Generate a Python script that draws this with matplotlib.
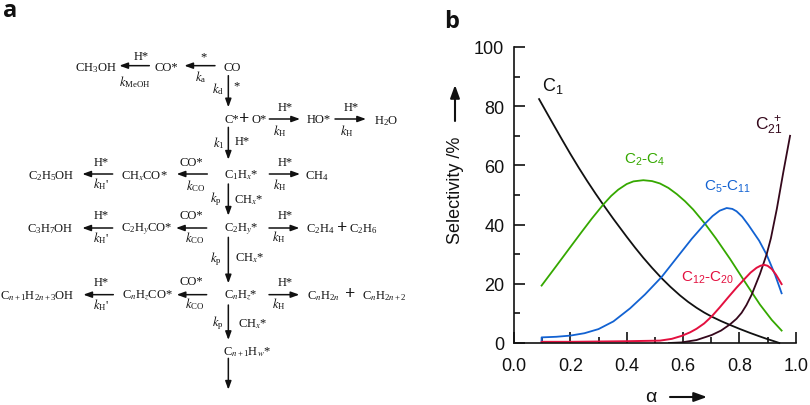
import matplotlib
matplotlib.use("Agg")
import matplotlib.pyplot as plt

# ---------- chart data ----------
alpha_c1 = [0.089, 0.115, 0.14, 0.17, 0.20, 0.23, 0.26, 0.29, 0.317, 0.353, 0.40, 0.43, 0.459, 0.49, 0.524, 0.555, 0.589, 0.618, 0.648, 0.675, 0.702, 0.735, 0.767, 0.80, 0.838, 0.87, 0.897, 0.92, 0.942]
sel_c1 = [82.4, 78.0, 73.8, 68.8, 63.9, 59.2, 54.7, 50.4, 46.7, 41.9, 35.9, 32.2, 28.8, 25.4, 21.9, 19.0, 16.1, 13.9, 11.9, 10.3, 8.9, 7.4, 6.1, 4.8, 3.4, 2.3, 1.4, 0.7, 0.0]

alpha_c2 = [0.098, 0.15, 0.20, 0.24, 0.276, 0.317, 0.345, 0.37, 0.40, 0.424, 0.459, 0.49, 0.518, 0.548, 0.578, 0.607, 0.636, 0.678, 0.717, 0.767, 0.82, 0.873, 0.915, 0.95]
sel_c2 = [19.4, 26.0, 32.4, 37.5, 42.0, 46.8, 49.7, 51.8, 53.7, 54.6, 55.0, 54.7, 53.9, 52.4, 50.3, 47.9, 45.1, 40.3, 35.3, 28.4, 20.6, 13.0, 7.8, 4.2]

alpha_c5 = [0.098, 0.098, 0.15, 0.20, 0.25, 0.30, 0.353, 0.412, 0.465, 0.524, 0.577, 0.631, 0.678, 0.705, 0.73, 0.755, 0.775, 0.79, 0.81, 0.832, 0.87, 0.897, 0.927, 0.95]
sel_c5 = [0.5, 1.9, 2.1, 2.5, 3.3, 4.7, 7.3, 11.7, 16.4, 22.3, 28.7, 35.2, 40.3, 42.9, 44.7, 45.6, 45.3, 44.5, 42.7, 39.9, 34.6, 29.8, 23.0, 16.8]

alpha_c12 = [0.098, 0.20, 0.30, 0.40, 0.518, 0.56, 0.595, 0.625, 0.648, 0.675, 0.702, 0.73, 0.761, 0.79, 0.82, 0.84, 0.861, 0.875, 0.888, 0.90, 0.915, 0.93, 0.95]
sel_c12 = [0.4, 0.4, 0.5, 0.6, 0.8, 1.4, 2.4, 3.6, 4.8, 6.6, 9.0, 12.0, 15.5, 18.7, 21.8, 23.8, 25.4, 26.1, 26.4, 26.1, 25.0, 23.1, 19.9]

alpha_c21 = [0.55, 0.595, 0.648, 0.702, 0.735, 0.767, 0.79, 0.808, 0.825, 0.844, 0.873, 0.897, 0.912, 0.933, 0.956, 0.98]
sel_c21 = [0.0, 0.2, 1.0, 2.7, 4.2, 6.3, 8.2, 10.2, 12.8, 16.4, 23.3, 30.0, 35.4, 45.3, 57.7, 70.0]

x_ticks = [0.0, 0.2, 0.4, 0.6, 0.8, 1.0]
x_minor = [0.1, 0.3, 0.5, 0.7, 0.9]
y_ticks = [0, 20, 40, 60, 80, 100]
y_minor = [10, 30, 50, 70, 90]

BLACK, GREEN, BLUE, RED, MAROON = "#111111", "#35a800", "#1262d2", "#e3103f", "#35081c"

W, H = 810, 406
plt.rcParams["font.family"] = ["Liberation Sans", "DejaVu Sans"]
plt.rcParams["mathtext.fontset"] = "custom"
plt.rcParams["mathtext.rm"] = "Liberation Sans"
plt.rcParams["mathtext.it"] = "Liberation Sans:italic"
plt.rcParams["mathtext.default"] = "regular"
fig = plt.figure(figsize=(W / 100, H / 100), dpi=100)
L, R, T, B = 514.0, 795.7, 48.0, 344.0
ax = fig.add_axes([L / W, (H - B) / H, (R - L) / W, (B - T) / H])
ax.set_xlim(0, 1)
ax.set_ylim(0, 100)
ax.patch.set_alpha(0)
for s in ("top", "right"):
    ax.spines[s].set_visible(False)
for s in ("left", "bottom"):
    ax.spines[s].set_linewidth(1.2)
    ax.spines[s].set_color("#111111")
ax.set_xticks(x_ticks)
ax.set_yticks(y_ticks)
ax.set_xticks(x_minor, minor=True)
ax.set_yticks(y_minor, minor=True)
ax.set_xticklabels([f"{v:.1f}" for v in x_ticks])
ax.tick_params(which="major", direction="in", length=8, width=1.2, labelsize=13, color="#111111", labelcolor="#111111")
ax.tick_params(which="minor", direction="in", length=4.2, width=1.2, color="#111111")
ax.tick_params(axis="x", which="major", pad=10)
ax.tick_params(axis="y", which="major", pad=7)

ax.plot(alpha_c1, sel_c1, color=BLACK, lw=1.3, clip_on=False)
ax.plot(alpha_c2, sel_c2, color=GREEN, lw=1.3)
ax.plot(alpha_c5, sel_c5, color=BLUE, lw=1.3)
ax.plot(alpha_c21, sel_c21, color=MAROON, lw=1.3)
ax.plot(alpha_c12, sel_c12, color=RED, lw=1.4)

# ---------- overlay in pixel coordinates for annotation and panel a ----------
ov = fig.add_axes([0, 0, 1, 1])
ov.set_xlim(0, W)
ov.set_ylim(H, 0)
ov.axis("off")


def sans(x, y, s, size=12, color="#111111", **kw):
    kw.setdefault("ha", "center")
    kw.setdefault("va", "center")
    ov.text(x, y, s, fontsize=size, color=color, family="Liberation Sans", math_fontfamily="custom", **kw)


sans(553, 86, "C$_{1}$", 13)
sans(645, 160, "C$_{2}$-C$_{4}$", 11, GREEN)
sans(728, 187, "C$_{5}$-C$_{11}$", 11, BLUE)
sans(708, 278, "C$_{12}$-C$_{20}$", 11, RED)
sans(769, 126, "C$_{21}^{\\,\\,+}$", 12.5, MAROON)
sans(455, 190, "Selectivity /%", 13, rotation=90)
sans(651, 398, "α", 14)
ov.text(10, 17, "a", fontsize=17, fontweight="bold", family="Open Sans", color="#111111", ha="center", va="baseline")
ov.text(452, 28, "b", fontsize=17, fontweight="bold", family="Open Sans", color="#111111", ha="center", va="baseline")


def arrow(x0, y0, x1, y1, lw=1.1, ms=9):
    ov.annotate("", xy=(x1, y1), xytext=(x0, y0),
                arrowprops=dict(arrowstyle="-|>,head_length=0.55,head_width=0.2", lw=lw, color="#111111",
                                shrinkA=0, shrinkB=0, mutation_scale=ms))


arrow(455, 122, 455, 86, lw=1.5, ms=14)
arrow(670, 398, 707, 398, lw=1.5, ms=14)


def tt(zx, zy, s, size=9, base=0, **kw):
    kw.setdefault("ha", "center")
    ov.text(zx / 3, base + zy / 3, s, fontsize=size, color="#111111", family="Liberation Serif",
            math_fontfamily="stix", va="center", **kw)


KH = "$\\mathit{k}_{H}$"
KHP = "$\\mathit{k}_{H}$'"
KCO = "$\\mathit{k}_{CO}$"
KP = "$\\mathit{k}_{p}$"

# upper crop coordinates
for x, y, s in [
    (288, 203, "CH$_{3}$OH"), (424, 170, "H*"), (404, 245, "$\\mathit{k}_{MeOH}$"), (500, 203, "CO*"),
    (610, 172, "*"), (602, 232, "$\\mathit{k}_{a}$"), (697, 203, "CO"), (655, 268, "$\\mathit{k}_{d}$"), (710, 258, "*"),
    (695, 360, "C*"), (778, 360, "O*"), (856, 325, "H*"), (840, 392, KH), (955, 360, "HO*"),
    (1054, 325, "H*"), (1040, 392, KH), (1157, 362, "H$_{2}$O"), (655, 428, "$\\mathit{k}_{1}$"), (727, 425, "H*"),
    (723, 525, "C$_{1}$H$_{\\mathit{x}}$*"), (855, 490, "H*"), (840, 555, KH), (950, 528, "CH$_{4}$"),
    (575, 488, "CO*"), (586, 558, KCO), (433, 528, "CH$_{\\mathit{x}}$CO*"), (303, 490, "H*"), (303, 552, KHP),
    (155, 527, "C$_{2}$H$_{5}$OH"), (648, 597, KP), (747, 600, "CH$_{\\mathit{x}}$*"),
]:
    tt(x, y, s)
tt(732, 360, "+", size=13, fontweight="bold")

# lower crop coordinates
for x, y, s in [
    (722, 87, "C$_{2}$H$_{\\mathit{y}}$*"), (855, 47, "H*"), (836, 112, KH), (960, 87, "C$_{2}$H$_{4}$"),
    (1090, 87, "C$_{2}$H$_{6}$"), (575, 47, "CO*"), (585, 115, KCO), (440, 87, "C$_{2}$H$_{\\mathit{y}}$CO*"),
    (305, 47, "H*"), (303, 115, KHP), (152, 87, "C$_{3}$H$_{7}$OH"), (648, 178, KP), (750, 175, "CH$_{\\mathit{x}}$*"),
    (723, 287, "C$_{\\mathit{n}}$H$_{\\mathit{z}}$*"), (855, 248, "H*"), (836, 312, KH), (970, 287, "C$_{\\mathit{n}}$H$_{2\\mathit{n}}$"),
    (575, 246, "CO*"), (585, 313, KCO), (441, 287, "C$_{\\mathit{n}}$H$_{\\mathit{z}}$CO*"), (305, 248, "H*"), (303, 315, KHP),
    (112, 287, "C$_{\\mathit{n}+1}$H$_{2\\mathit{n}+3}$OH"), (654, 368, KP), (757, 372, "CH$_{\\mathit{x}}$*"),
    (742, 455, "C$_{\\mathit{n}+1}$H$_{\\mathit{w}}$*"),
]:
    tt(x, y, s, base=200)
tt(1027, 87, "+", size=13, base=200, fontweight="bold")
tt(1050, 285, "+", size=13, base=200, fontweight="bold")
tt(1085, 287, "C$_{\\mathit{n}}$H$_{2\\mathit{n}+2}$", base=200, ha="left")

# arrows of the scheme, upper crop
for a, b, c, d in [
    (448, 200, 358, 200), (645, 200, 553, 200), (685, 230, 685, 325), (808, 360, 900, 360),
    (1005, 360, 1098, 360), (685, 385, 685, 482), (808, 525, 900, 525), (622, 525, 530, 525),
    (338, 525, 247, 525), (685, 555, 685, 650),
]:
    arrow(a / 3, b / 3, c / 3, d / 3)
# arrows of the scheme, lower crop
for a, b, c, d in [
    (807, 87, 898, 87), (620, 87, 528, 87), (338, 87, 247, 87), (685, 115, 685, 253),
    (807, 287, 898, 287), (620, 287, 530, 287), (340, 287, 250, 287), (685, 318, 685, 423),
    (685, 478, 685, 572),
]:
    arrow(a / 3, 200 + b / 3, c / 3, 200 + d / 3)

fig.savefig("out.png", dpi=100)
